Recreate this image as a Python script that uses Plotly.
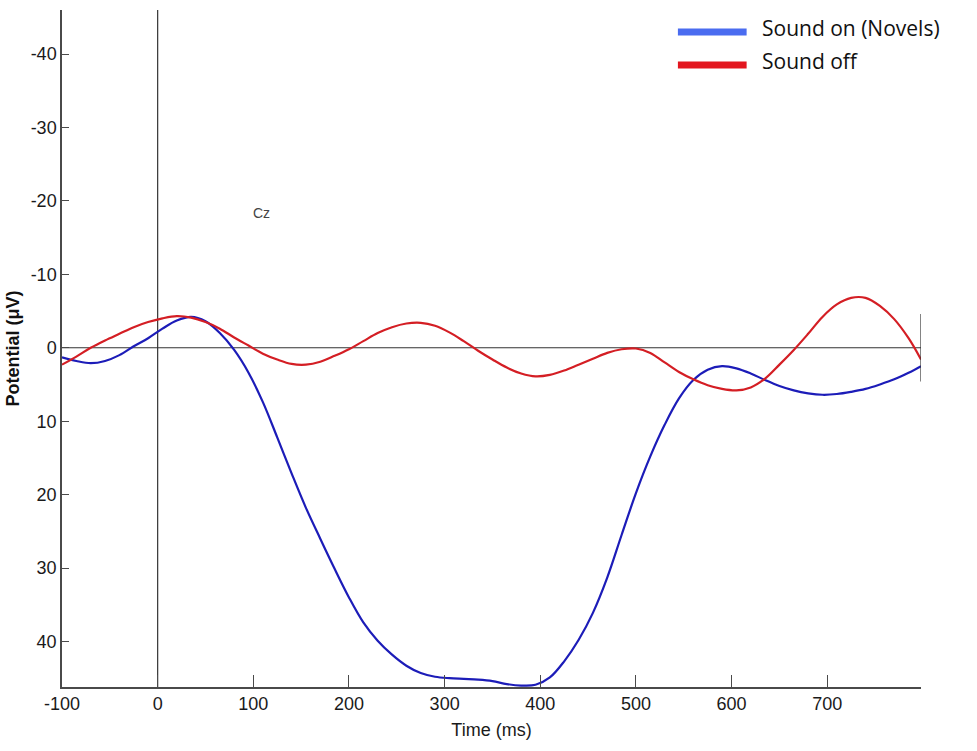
import plotly.graph_objects as go

# ERP waveforms at electrode Cz (time in ms, potential in microvolts)
time_on = [-100, -85, -70, -55, -40, -25, -10, 5, 20, 35, 50, 65, 80, 95, 110, 125,
           140, 155, 170, 185, 200, 215, 230, 245, 260, 275, 290, 305, 320, 335, 350,
           365, 380, 395, 410, 425, 440, 455, 470, 485, 500, 515, 530, 545, 560, 575,
           590, 605, 620, 635, 650, 665, 680, 695, 710, 725, 740, 755, 770, 785, 798]
sound_on = [1.3, 1.8, 2.1, 1.8, 1.0, -0.2, -1.3, -2.6, -3.7, -4.2, -3.6, -2.0, 0.3,
            3.4, 7.4, 12.2, 17.1, 21.8, 26.0, 30.1, 34.0, 37.4, 39.9, 41.8, 43.3, 44.3,
            44.8, 45.0, 45.1, 45.2, 45.4, 45.8, 46.0, 45.9, 44.9, 42.7, 39.8, 36.1,
            31.3, 25.5, 19.8, 14.8, 10.5, 6.9, 4.4, 3.0, 2.5, 2.8, 3.5, 4.4, 5.2, 5.8,
            6.2, 6.4, 6.3, 6.0, 5.6, 5.0, 4.3, 3.4, 2.5]

time_off = time_on
sound_off = [2.3, 1.2, 0.0, -1.0, -1.9, -2.8, -3.5, -4.0, -4.3, -4.1, -3.5, -2.6, -1.4,
             -0.3, 0.8, 1.6, 2.2, 2.3, 1.9, 1.1, 0.2, -0.9, -2.0, -2.8, -3.3, -3.4,
             -3.0, -2.1, -0.9, 0.4, 1.6, 2.7, 3.5, 3.9, 3.7, 3.1, 2.3, 1.5, 0.7, 0.2,
             0.1, 0.7, 2.0, 3.3, 4.3, 5.1, 5.6, 5.8, 5.4, 4.2, 2.3, 0.3, -1.9, -4.2,
             -5.9, -6.8, -6.8, -5.7, -3.9, -1.3, 1.6]

series_names = ["Sound on (Novels)", "Sound off"]
x_ticks = [-100, 0, 100, 200, 300, 400, 500, 600, 700]
y_ticks = [-40, -30, -20, -10, 0, 10, 20, 30, 40]
x_range = [-100, 798]
y_range = [46.2, -46.0]          # negative up, EEG convention
scale_bar = [-4.6, 4.6]          # calibration bar at the end of the epoch
electrode = "Cz"
electrode_pos = [109, -18.4]

curve_colors = ["#1c1cb8", "#d41e24"]
key_colors = ["#4a6cf0", "#e3161f"]
axis_color = "#4a4a4a"
tick_font = dict(family="Liberation Sans, Arial", size=18, color="#1a1a1a")


def hyphen_labels(values):
    # plain hyphen-minus, as on the original MATLAB axes
    return [str(v) for v in values]


fig = go.Figure()
fig.add_trace(go.Scatter(x=time_on, y=sound_on, mode="lines", name=series_names[0],
                         line=dict(color=curve_colors[0], width=2.2, shape="spline", smoothing=1.0),
                         showlegend=False))
fig.add_trace(go.Scatter(x=time_off, y=sound_off, mode="lines", name=series_names[1],
                         line=dict(color=curve_colors[1], width=2.2, shape="spline", smoothing=1.0),
                         showlegend=False))

# reference lines at t = 0 and 0 uV
fig.add_shape(type="line", xref="x", yref="paper", x0=0, x1=0, y0=0, y1=1,
              line=dict(color="#333333", width=1.2), layer="below")
fig.add_shape(type="line", xref="paper", yref="y", x0=0, x1=1, y0=0, y1=0,
              line=dict(color="#333333", width=1.2), layer="below")
fig.add_shape(type="line", xref="x", yref="y", x0=x_range[1], x1=x_range[1],
              y0=scale_bar[0], y1=scale_bar[1], line=dict(color="#333333", width=1.2))

# key in the upper right corner
key_y = [0.9675, 0.9188]
for name, col, ky in zip(series_names, key_colors, key_y):
    fig.add_shape(type="line", xref="paper", yref="paper", x0=0.717, x1=0.797, y0=ky, y1=ky,
                  line=dict(color=col, width=7))
    fig.add_annotation(xref="paper", yref="paper", x=0.812, y=ky + 0.006, text=name,
                       showarrow=False, xanchor="left", yanchor="middle",
                       font=dict(family="Open Sans", size=21, color="#111111"))

fig.add_annotation(x=electrode_pos[0], y=electrode_pos[1], text=electrode, showarrow=False,
                   font=dict(family="Liberation Sans, Arial", size=14, color="#444444"))

fig.update_layout(
    width=977, height=751,
    margin=dict(l=62, r=56, t=10, b=64),
    paper_bgcolor="white", plot_bgcolor="white",
    showlegend=False,
    xaxis=dict(range=x_range, tickmode="array", tickvals=x_ticks, ticktext=hyphen_labels(x_ticks),
               ticks="inside", ticklen=12,
               tickcolor=axis_color, tickwidth=1.2, showline=True, linecolor=axis_color,
               linewidth=1.5, showgrid=False, zeroline=False, tickfont=tick_font,
               title=dict(text="Time (ms)", font=tick_font, standoff=10)),
    yaxis=dict(range=y_range, tickmode="array", tickvals=y_ticks, ticktext=hyphen_labels(y_ticks),
               ticks="inside", ticklen=7,
               tickcolor=axis_color, tickwidth=1.2, showline=True, linecolor=axis_color,
               linewidth=1.5, showgrid=False, zeroline=False, tickfont=tick_font,
               title=dict(text="Potential (\u03bcV)", standoff=6,
                          font=dict(family="Liberation Sans", size=18, color="#111111",
                                    weight="bold"))),
)

fig.write_html("out.html")
